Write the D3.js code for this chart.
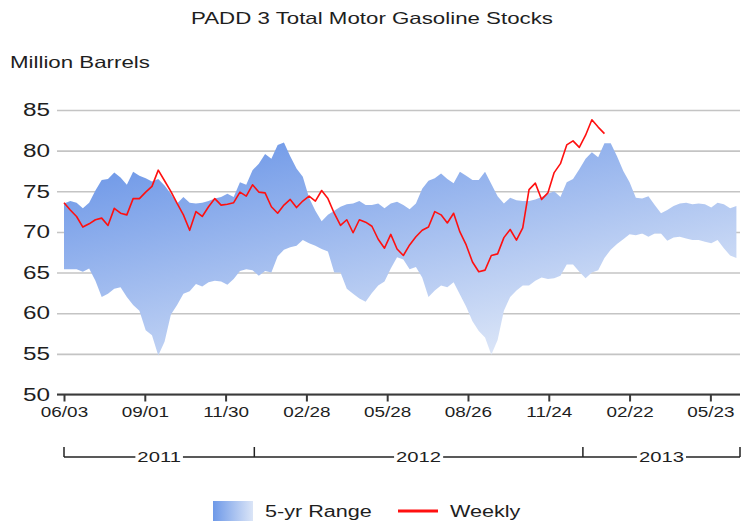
<!DOCTYPE html>
<html>
<head>
<meta charset="utf-8">
<script src="https://cdn.jsdelivr.net/npm/d3@7"></script>
<style>
  body { margin: 0; background: #fff; }
  text { font-family: "Liberation Sans", Arial, sans-serif; fill: #1e1e1e; }
</style>
</head>
<body>
<div class="canvas"></div>
<script>
// weekly data starts on this friday
const firstWeek = "2011-06-03";
const axisEnd = "2013-06-25";

const tickDates = ["2011-06-03", "2011-09-01", "2011-11-30", "2012-02-28", "2012-05-28",
                   "2012-08-26", "2012-11-24", "2013-02-22", "2013-05-23"];
const yTicks = [50, 55, 60, 65, 70, 75, 80, 85];
const yearLabels = ["2011", "2012", "2013"];
const yearBreaks = ["2011-06-03", "2012-01-01", "2013-01-01", "2013-06-25"];

// million barrels
const weekly = [73.6, 72.7, 71.9, 70.6, 71.0, 71.5, 71.7, 70.8, 72.9, 72.3,
  72.1, 74.1, 74.1, 74.9, 75.6, 77.6, 76.3, 75.0, 73.5, 72.1,
  70.2, 72.5, 71.9, 73.1, 74.1, 73.3, 73.4, 73.6, 74.9, 74.4,
  75.8, 74.9, 74.8, 73.1, 72.3, 73.3, 74.0, 73.0, 73.8, 74.4,
  73.8, 75.1, 74.1, 72.3, 70.8, 71.5, 69.9, 71.5, 71.2, 70.7,
  69.1, 68.0, 69.7, 67.9, 67.1, 68.4, 69.4, 70.2, 70.6, 72.5,
  72.1, 71.1, 72.3, 70.0, 68.4, 66.3, 65.1, 65.3, 67.1, 67.3,
  69.3, 70.3, 69.0, 70.5, 75.2, 76.0, 74.0, 74.8, 77.3, 78.4,
  80.7, 81.2, 80.4, 81.9, 83.8, 82.9, 82.1];

const rangeHigh = [73.5, 73.8, 73.6, 72.9, 73.6, 75.1, 76.4, 76.5, 77.3, 76.7,
  75.8, 77.4, 76.9, 76.6, 76.2, 76.5, 75.7, 74.7, 73.5, 74.3,
  73.6, 73.5, 73.6, 73.8, 74.1, 74.3, 74.7, 74.3, 76.1, 75.8,
  77.6, 78.4, 79.6, 79.0, 80.7, 81.0, 79.3, 77.8, 76.8, 74.2,
  72.6, 71.3, 72.1, 72.6, 73.1, 73.4, 73.5, 73.8, 73.3, 73.3,
  73.5, 72.9, 73.5, 73.7, 73.3, 72.8, 73.5, 75.3, 76.3, 76.6,
  77.2, 76.5, 76.0, 77.4, 76.9, 76.4, 76.4, 77.4, 75.9, 74.4,
  73.5, 74.2, 73.9, 73.8, 73.8, 74.0, 74.3, 74.7, 75.0, 74.3,
  76.1, 76.5, 77.7, 79.0, 79.8, 79.2, 80.9, 80.9, 79.3, 77.5,
  76.1, 74.2, 74.1, 74.4, 73.3, 72.3, 72.7, 73.2, 73.5, 73.6,
  73.4, 73.5, 73.4, 73.0, 73.6, 73.4, 72.9, 73.2];

const rangeLow = [65.4, 65.4, 65.4, 65.1, 65.5, 64.0, 62.0, 62.4, 63.0, 63.2,
  62.0, 61.0, 60.3, 57.9, 57.3, 54.8, 56.5, 59.8, 61.0, 62.4,
  62.7, 63.6, 63.3, 63.8, 64.0, 63.9, 63.5, 64.2, 65.2, 65.4,
  65.3, 64.6, 65.2, 65.0, 67.0, 67.8, 68.1, 68.3, 69.0, 68.6,
  68.3, 67.9, 67.6, 65.0, 65.0, 63.0, 62.4, 61.8, 61.4, 62.5,
  63.4, 63.9, 65.5, 66.9, 66.6, 65.4, 65.7, 64.4, 62.0, 62.8,
  63.4, 63.2, 63.8, 62.3, 60.8, 59.0, 57.8, 57.0, 54.9, 56.7,
  60.3, 62.0, 62.8, 63.4, 63.4, 64.0, 64.4, 64.2, 64.3, 64.6,
  66.0, 66.0, 65.1, 64.3, 65.0, 65.3, 66.8, 67.8, 68.5, 69.1,
  69.7, 69.6, 69.8, 69.4, 69.8, 69.8, 68.9, 69.3, 69.4, 69.2,
  69.0, 69.0, 68.8, 68.6, 69.0, 68.0, 67.1, 66.8];

const parse = d3.timeParse("%Y-%m-%d");
const start = parse(firstWeek);
const weekDate = i => d3.timeDay.offset(start, 7 * i);

const rangeData = rangeHigh.map((hi, i) => ({date: weekDate(i), hi: hi, lo: rangeLow[i]}));
const weeklyData = weekly.map((v, i) => ({date: weekDate(i), v: v}));

const svg = d3.select('.canvas')
  .append('svg')
    .attr('width', 751)
    .attr('height', 526);

const gridLeft = 57, plotLeft = 64, plotRight = 740;
const plotTop = 110, plotBottom = 394.5;

const x = d3.scaleTime()
  .domain([start, parse(axisEnd)])
  .range([plotLeft, plotRight]);

const y = d3.scaleLinear()
  .domain([50, 85])
  .range([plotBottom, plotTop]);

const defs = svg.append('defs');
const grad = defs.append('linearGradient')
  .attr('id', 'bandFill')
  .attr('x1', 0).attr('y1', 0).attr('x2', 0.7).attr('y2', 1);
grad.append('stop').attr('offset', 0).attr('stop-color', '#6390e6');
grad.append('stop').attr('offset', 1).attr('stop-color', '#dfe8f8');

const legGrad = defs.append('linearGradient')
  .attr('id', 'legFill')
  .attr('x1', 0).attr('y1', 0).attr('x2', 1).attr('y2', 0);
legGrad.append('stop').attr('offset', 0).attr('stop-color', '#6e99e8');
legGrad.append('stop').attr('offset', 1).attr('stop-color', '#dbe5f7');

// title and unit
svg.append('text')
  .attr('x', 372).attr('y', 24)
  .attr('text-anchor', 'middle')
  .style('font-size', '16.5px')
  .text('PADD 3 Total Motor Gasoline Stocks');

svg.append('text')
  .attr('x', 10).attr('y', 68)
  .style('font-size', '16.5px')
  .text('Million Barrels');

// y axis + grid
const yAxis = d3.axisLeft(y)
  .tickValues(yTicks)
  .tickSize(-(plotRight - gridLeft))
  .tickPadding(7);

const yAxisGroup = svg.append('g')
  .attr('transform', `translate(${gridLeft}, 0)`)
  .call(yAxis);
yAxisGroup.select('.domain').remove();
yAxisGroup.selectAll('line').attr('stroke', '#c4c4c4').attr('stroke-width', 1.6);
yAxisGroup.selectAll('text').style('font-size', '18px').attr('fill', '#1a1a1a');

// band
const area = d3.area()
  .x(d => x(d.date))
  .y0(d => y(d.lo))
  .y1(d => y(d.hi));

svg.append('path')
  .datum(rangeData)
  .attr('d', area)
  .attr('fill', 'url(#bandFill)');

// weekly line
const line = d3.line()
  .x(d => x(d.date))
  .y(d => y(d.v));

svg.append('path')
  .datum(weeklyData)
  .attr('d', line)
  .attr('fill', 'none')
  .attr('stroke', '#ff1010')
  .attr('stroke-width', 1.6)
  .attr('stroke-linejoin', 'round');

// x axis
const xAxis = d3.axisBottom(x)
  .tickValues(tickDates.map(parse))
  .tickFormat(d3.timeFormat('%m/%d'))
  .tickSize(7)
  .tickPadding(6);

const xAxisGroup = svg.append('g')
  .attr('transform', `translate(0, ${plotBottom})`)
  .call(xAxis);
xAxisGroup.select('.domain').remove();
xAxisGroup.selectAll('line').attr('stroke', '#3a3a3a').attr('stroke-width', 2);
xAxisGroup.selectAll('text').style('font-size', '14px').attr('fill', '#1e1e1e');

svg.append('line')
  .attr('x1', gridLeft).attr('x2', plotRight)
  .attr('y1', plotBottom).attr('y2', plotBottom)
  .attr('stroke', '#3a3a3a').attr('stroke-width', 2);

// year bracket
const yearY = 457;
const yb = yearBreaks.map(d => x(parse(d)));
svg.append('line')
  .attr('x1', yb[0]).attr('x2', yb[yb.length - 1])
  .attr('y1', yearY).attr('y2', yearY)
  .attr('stroke', '#222').attr('stroke-width', 1.5);
svg.selectAll('.yearTick')
  .data(yb)
  .enter().append('line')
    .attr('class', 'yearTick')
    .attr('x1', d => d).attr('x2', d => d)
    .attr('y1', yearY - 10).attr('y2', yearY)
    .attr('stroke', '#222').attr('stroke-width', 1.5);

const yearText = svg.selectAll('.yearLabel')
  .data(yearLabels)
  .enter().append('text')
    .attr('class', 'yearLabel')
    .attr('x', (d, i) => (yb[i] + yb[i + 1]) / 2)
    .attr('y', yearY + 5)
    .attr('text-anchor', 'middle')
    .style('font-size', '15px')
    .text(d => d);

// legend
svg.append('rect')
  .attr('x', 213).attr('y', 501)
  .attr('width', 40).attr('height', 20)
  .attr('fill', 'url(#legFill)');
svg.append('text')
  .attr('x', 265).attr('y', 517)
  .style('font-size', '16px')
  .text('5-yr Range');
svg.append('line')
  .attr('x1', 398).attr('x2', 438)
  .attr('y1', 511).attr('y2', 511)
  .attr('stroke', '#ff1010').attr('stroke-width', 3);
svg.append('text')
  .attr('x', 450).attr('y', 517)
  .style('font-size', '16px')
  .text('Weekly');

// the source picture is stretched sideways, so widen the glyphs the same way
svg.selectAll('text').each(function() {
  const w = this.getComputedTextLength();
  d3.select(this)
    .attr('textLength', w * 1.35)
    .attr('lengthAdjust', 'spacingAndGlyphs');
});

// white box behind year labels to break the bracket line
yearText.each(function() {
  const b = this.getBBox();
  svg.insert('rect', function() { return this; }.bind(this))
    .attr('x', b.x - 2).attr('y', b.y)
    .attr('width', b.width + 4).attr('height', b.height)
    .attr('fill', '#fff');
});
</script>
</body>
</html>
